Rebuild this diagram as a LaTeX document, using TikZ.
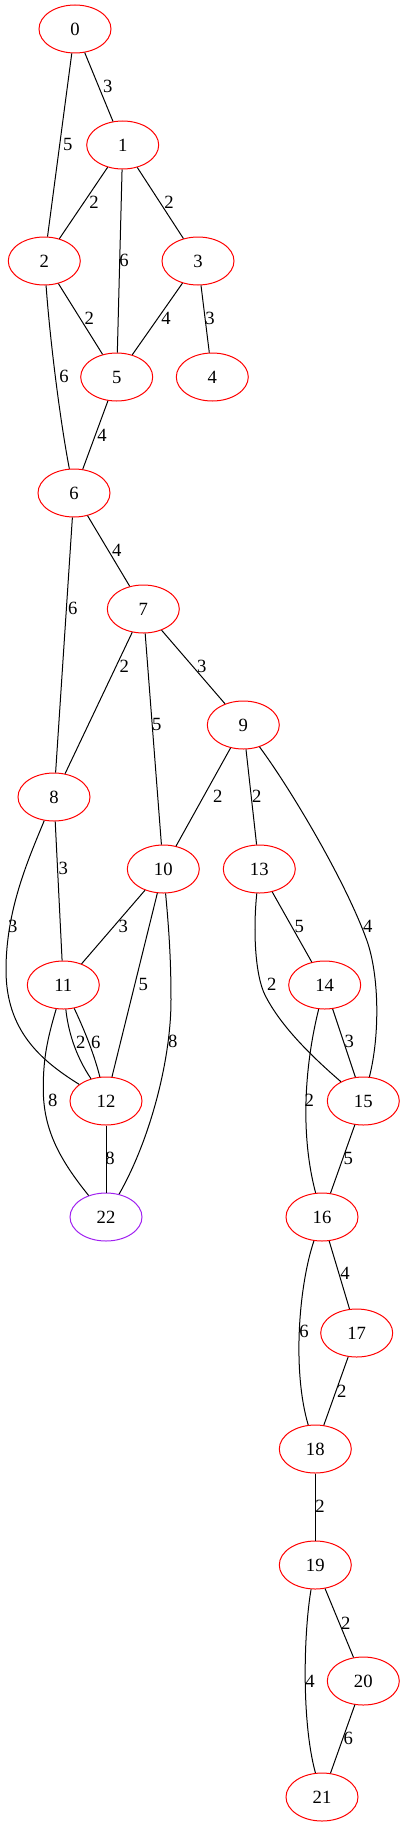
\documentclass[tikz,border=0pt]{standalone}
\usepackage{fontspec}
\setmainfont{Liberation Serif}
\usetikzlibrary{shapes.geometric}
\definecolor{gvred}{RGB}{255,0,0}
\definecolor{gvpurple}{RGB}{160,32,240}
\tikzset{
  vtx/.style={ellipse, draw=gvred, line width=0.75pt, minimum width=54pt, minimum height=36pt, inner sep=0pt, font=\fontsize{14}{16}\selectfont},
  vtxp/.style={vtx, draw=gvpurple},
  lbl/.style={inner sep=0pt, font=\fontsize{14}{16}\selectfont},
  edge/.style={draw=black, line width=0.75pt}
}
\begin{document}
\begin{tikzpicture}[x=0.75pt, y=-0.75pt]
\useasboundingbox (0,0) rectangle (405,1827);
% nodes
\node[vtx] (n0) at (75,29) {0};
\node[vtx] (n1) at (122.7,145) {1};
\node[vtx] (n2) at (44.3,261) {2};
\node[vtx] (n3) at (198,261) {3};
\node[vtx] (n5) at (116.7,377) {5};
\node[vtx] (n4) at (212.3,377) {4};
\node[vtx] (n6) at (74,493) {6};
\node[vtx] (n7) at (143.3,609) {7};
\node[vtx] (n9) at (243.3,725) {9};
\node[vtx] (n8) at (54,797) {8};
\node[vtx] (n10) at (163.3,869) {10};
\node[vtx] (n13) at (259.3,869) {13};
\node[vtx] (n11) at (63.3,985) {11};
\node[vtx] (n14) at (324.7,985) {14};
\node[vtx] (n12) at (106,1101) {12};
\node[vtx] (n15) at (363.3,1101) {15};
\node[vtxp] (n22) at (106,1217) {22};
\node[vtx] (n16) at (322,1217) {16};
\node[vtx] (n17) at (356.7,1333) {17};
\node[vtx] (n18) at (315.3,1449) {18};
\node[vtx] (n19) at (315.3,1565) {19};
\node[vtx] (n20) at (363.3,1681) {20};
\node[vtx] (n21) at (322,1797) {21};
% edges
\draw[edge] (n0) -- (n1);
\draw[edge] (n0) -- (n2);
\draw[edge] (n1) -- (n2);
\draw[edge] (n1) -- (n5);
\draw[edge] (n1) -- (n3);
\draw[edge] (n2) -- (n5);
\draw[edge] (n3) -- (n5);
\draw[edge] (n3) -- (n4);
\draw[edge] (n2) .. controls (50,340) and (60,420) .. (n6);
\draw[edge] (n5) -- (n6);
\draw[edge] (n6) -- (n7);
\draw[edge] (n6) -- (n8);
\draw[edge] (n7) -- (n8);
\draw[edge] (n7) -- (n10);
\draw[edge] (n7) -- (n9);
\draw[edge] (n9) -- (n10);
\draw[edge] (n9) -- (n13);
\draw[edge] (n9) .. controls (290,788) and (345,880) .. (366.7,940) .. controls (379.3,975) and (380,1035) .. (n15);
\draw[edge] (n8) -- (n11);
\draw[edge] (n8) .. controls (28,860) and (6,910) .. (6,970) .. controls (6,1030) and (40,1060) .. (n12);
\draw[edge] (n10) -- (n11);
\draw[edge] (n10) -- (n12);
\draw[edge] (n10) .. controls (169,930) and (171,960) .. (171,1000) .. controls (171,1060) and (150,1140) .. (n22);
\draw[edge] (n11) .. controls (68,1030) and (75,1055) .. (n12);
\draw[edge] (n11) .. controls (82,1025) and (93,1050) .. (n12);
\draw[edge] (n11) .. controls (47,1040) and (43,1060) .. (43.3,1090) .. controls (43.5,1130) and (60,1160) .. (n22);
\draw[edge] (n12) -- (n22);
\draw[edge] (n13) -- (n14);
\draw[edge] (n13) .. controls (253,930) and (255,975) .. (265,995) .. controls (280,1025) and (310,1055) .. (n15);
\draw[edge] (n14) -- (n15);
\draw[edge] (n14) .. controls (306,1060) and (299,1130) .. (n16);
\draw[edge] (n15) -- (n16);
\draw[edge] (n16) -- (n17);
\draw[edge] (n16) .. controls (299,1285) and (292,1370) .. (n18);
\draw[edge] (n17) -- (n18);
\draw[edge] (n18) -- (n19);
\draw[edge] (n19) -- (n20);
\draw[edge] (n19) .. controls (304,1630) and (301,1720) .. (n21);
\draw[edge] (n20) -- (n21);
% labels
\node[lbl] (l01) at (107.7,86) {3};
\node[lbl] (l02) at (67.7,144) {5};
\node[lbl] (l12) at (94,202.3) {2};
\node[lbl] (l15) at (124,260) {6};
\node[lbl] (l13) at (169,202.3) {2};
\node[lbl] (l25) at (89.3,318.3) {2};
\node[lbl] (l35) at (166,318.3) {4};
\node[lbl] (l34) at (210,318.3) {3};
\node[lbl] (l26) at (64,376) {6};
\node[lbl] (l56) at (102,435) {4};
\node[lbl] (l67) at (116.7,550) {4};
\node[lbl] (l68) at (72.7,608.3) {6};
\node[lbl] (l78) at (124.3,666.7) {2};
\node[lbl] (l710) at (156.7,724) {5};
\node[lbl] (l79) at (201.7,666) {3};
\node[lbl] (l910) at (217.7,796.7) {2};
\node[lbl] (l913) at (256.7,796) {2};
\node[lbl] (l915) at (367.7,926) {4};
\node[lbl] (l811) at (63.3,868.3) {3};
\node[lbl] (l812) at (12.7,926) {3};
\node[lbl] (l1011) at (123.3,926) {3};
\node[lbl] (l1012) at (143.3,984.3) {5};
\node[lbl] (l1022) at (172.7,1041.7) {8};
\node[lbl] (l1112a) at (80.7,1042.3) {2};
\node[lbl] (l1112b) at (95.7,1042.3) {6};
\node[lbl] (l1122) at (52.7,1100) {8};
\node[lbl] (l1222) at (110,1158.3) {8};
\node[lbl] (l1314) at (299.3,926) {5};
\node[lbl] (l1315) at (271.7,984.3) {2};
\node[lbl] (l1415) at (349.3,1041.7) {3};
\node[lbl] (l1416) at (309.3,1100) {2};
\node[lbl] (l1516) at (348.3,1158.3) {5};
\node[lbl] (l1617) at (345,1273.3) {4};
\node[lbl] (l1618) at (304,1331.7) {6};
\node[lbl] (l1718) at (341.7,1391.7) {2};
\node[lbl] (l1819) at (320,1506) {2};
\node[lbl] (l1920) at (345.7,1623) {2};
\node[lbl] (l1921) at (310,1681) {4};
\node[lbl] (l2021) at (348.3,1738.7) {6};
\end{tikzpicture}
\end{document}
